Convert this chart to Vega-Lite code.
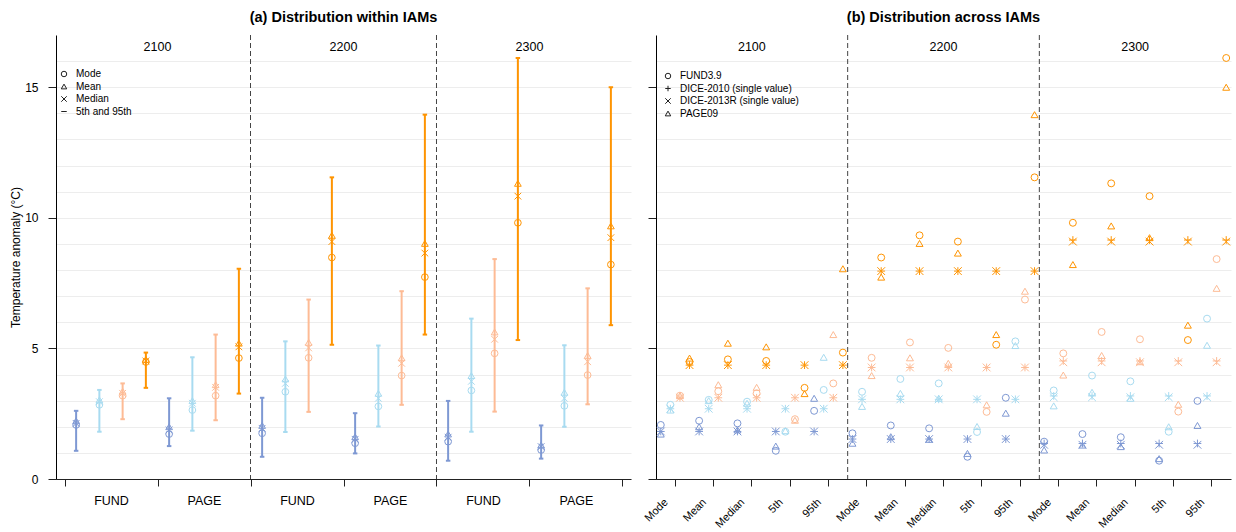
{
  "$schema": "https://vega.github.io/schema/vega-lite/v6.json",
  "background": "white",
  "padding": {"left": 9, "top": 10, "right": 4, "bottom": 0},
  "bounds": "flush",
  "spacing": 25,
  "config": {
    "font": "Liberation Sans",
    "view": {"stroke": null},
    "axis": {
      "labelColor": "#000",
      "titleColor": "#000",
      "domainColor": "#222",
      "tickColor": "#222",
      "labelFontSize": 12,
      "titleFontSize": 12,
      "titleFontWeight": "normal",
      "gridColor": "#ededed"
    },
    "title": {"fontSize": 14.5, "fontWeight": "bold", "color": "#000", "frame": "group", "anchor": "middle", "offset": 9}
  },
  "datasets": {
    "stats": [
      {"year": "2100", "model": "FUND", "scen": "s1", "Mode": 2.07, "Mean": 2.23, "Median": 2.13, "5th": 1.08, "95th": 2.61},
      {"year": "2100", "model": "FUND", "scen": "s2", "Mode": 2.84, "Mean": 3.03, "Median": 2.96, "5th": 1.81, "95th": 3.41},
      {"year": "2100", "model": "FUND", "scen": "s3", "Mode": 3.19, "Mean": 3.36, "Median": 3.28, "5th": 2.29, "95th": 3.66},
      {"year": "2100", "model": "FUND", "scen": "s4", "Mode": 4.48, "Mean": 4.58, "Median": 4.52, "5th": 3.49, "95th": 4.84},
      {"year": "2100", "model": "PAGE", "scen": "s1", "Mode": 1.72, "Mean": 2.0, "Median": 1.88, "5th": 1.26, "95th": 3.09},
      {"year": "2100", "model": "PAGE", "scen": "s2", "Mode": 2.64, "Mean": 3.0, "Median": 2.9, "5th": 1.85, "95th": 4.66},
      {"year": "2100", "model": "PAGE", "scen": "s3", "Mode": 3.19, "Mean": 3.61, "Median": 3.51, "5th": 2.25, "95th": 5.53},
      {"year": "2100", "model": "PAGE", "scen": "s4", "Mode": 4.63, "Mean": 5.2, "Median": 5.06, "5th": 3.27, "95th": 8.05},
      {"year": "2200", "model": "FUND", "scen": "s1", "Mode": 1.75, "Mean": 2.05, "Median": 1.94, "5th": 0.85, "95th": 3.11},
      {"year": "2200", "model": "FUND", "scen": "s2", "Mode": 3.34, "Mean": 3.83, "Median": 3.66, "5th": 1.8, "95th": 5.27},
      {"year": "2200", "model": "FUND", "scen": "s3", "Mode": 4.64, "Mean": 5.23, "Median": 5.02, "5th": 2.57, "95th": 6.87},
      {"year": "2200", "model": "FUND", "scen": "s4", "Mode": 8.48, "Mean": 9.33, "Median": 9.09, "5th": 5.14, "95th": 11.55},
      {"year": "2200", "model": "PAGE", "scen": "s1", "Mode": 1.37, "Mean": 1.62, "Median": 1.52, "5th": 0.98, "95th": 2.52},
      {"year": "2200", "model": "PAGE", "scen": "s2", "Mode": 2.78, "Mean": 3.28, "Median": 3.09, "5th": 2.01, "95th": 5.11},
      {"year": "2200", "model": "PAGE", "scen": "s3", "Mode": 3.96, "Mean": 4.64, "Median": 4.43, "5th": 2.84, "95th": 7.19},
      {"year": "2200", "model": "PAGE", "scen": "s4", "Mode": 7.73, "Mean": 9.02, "Median": 8.65, "5th": 5.53, "95th": 13.95},
      {"year": "2300", "model": "FUND", "scen": "s1", "Mode": 1.43, "Mean": 1.72, "Median": 1.6, "5th": 0.7, "95th": 2.99},
      {"year": "2300", "model": "FUND", "scen": "s2", "Mode": 3.39, "Mean": 3.96, "Median": 3.74, "5th": 1.81, "95th": 6.14},
      {"year": "2300", "model": "FUND", "scen": "s3", "Mode": 4.81, "Mean": 5.63, "Median": 5.35, "5th": 2.58, "95th": 8.42},
      {"year": "2300", "model": "FUND", "scen": "s4", "Mode": 9.81, "Mean": 11.32, "Median": 10.83, "5th": 5.32, "95th": 16.12},
      {"year": "2300", "model": "PAGE", "scen": "s1", "Mode": 1.11, "Mean": 1.3, "Median": 1.24, "5th": 0.78, "95th": 2.05},
      {"year": "2300", "model": "PAGE", "scen": "s2", "Mode": 2.8, "Mean": 3.32, "Median": 3.09, "5th": 2.0, "95th": 5.12},
      {"year": "2300", "model": "PAGE", "scen": "s3", "Mode": 3.98, "Mean": 4.73, "Median": 4.49, "5th": 2.86, "95th": 7.3},
      {"year": "2300", "model": "PAGE", "scen": "s4", "Mode": 8.21, "Mean": 9.69, "Median": 9.24, "5th": 5.89, "95th": 15.0}
    ],
    "dice": [
      {"year": "2100", "scen": "s1", "DICE-2010": 1.82, "DICE-2013R": 1.82, "stat": ["Mode", "Mean", "Median", "5th", "95th"]},
      {"year": "2100", "scen": "s2", "DICE-2010": 2.69, "DICE-2013R": 2.69, "stat": ["Mode", "Mean", "Median", "5th", "95th"]},
      {"year": "2100", "scen": "s3", "DICE-2010": 3.11, "DICE-2013R": 3.11, "stat": ["Mode", "Mean", "Median", "5th", "95th"]},
      {"year": "2100", "scen": "s4", "DICE-2010": 4.36, "DICE-2013R": 4.36, "stat": ["Mode", "Mean", "Median", "5th", "95th"]},
      {"year": "2200", "scen": "s1", "DICE-2010": 1.53, "DICE-2013R": 1.53, "stat": ["Mode", "Mean", "Median", "5th", "95th"]},
      {"year": "2200", "scen": "s2", "DICE-2010": 3.05, "DICE-2013R": 3.05, "stat": ["Mode", "Mean", "Median", "5th", "95th"]},
      {"year": "2200", "scen": "s3", "DICE-2010": 4.27, "DICE-2013R": 4.27, "stat": ["Mode", "Mean", "Median", "5th", "95th"]},
      {"year": "2200", "scen": "s4", "DICE-2010": 7.96, "DICE-2013R": 7.96, "stat": ["Mode", "Mean", "Median", "5th", "95th"]},
      {"year": "2300", "scen": "s1", "DICE-2010": 1.36, "DICE-2013R": 1.31, "stat": ["Mode", "Mean", "Median", "5th", "95th"]},
      {"year": "2300", "scen": "s2", "DICE-2010": 3.18, "DICE-2013R": 3.13, "stat": ["Mode", "Mean", "Median", "5th", "95th"]},
      {"year": "2300", "scen": "s3", "DICE-2010": 4.52, "DICE-2013R": 4.47, "stat": ["Mode", "Mean", "Median", "5th", "95th"]},
      {"year": "2300", "scen": "s4", "DICE-2010": 9.15, "DICE-2013R": 9.09, "stat": ["Mode", "Mean", "Median", "5th", "95th"]}
    ]
  },
  "resolve": {"scale": {"shape": "independent", "color": "shared", "xOffset": "independent", "x": "independent"}, "legend": {"shape": "independent"}},
  "hconcat": [
    {
      "width": 575,
      "height": 444,
      "title": {"text": "(a) Distribution within IAMs"},
      "data": {"name": "stats"},
      "transform": [{"calculate": "datum.year + ' ' + datum.model", "as": "grp"}],
      "layer": [
        {
          "transform": [{"filter": "datum.model === 'FUND' && datum.scen === 's1' && datum.year !== '2100'"}],
          "mark": {"type": "rule", "color": "#444", "strokeWidth": 1, "strokeDash": [5, 3]},
          "encoding": {
            "x": {"field": "grp", "type": "nominal", "bandPosition": 0,
              "scale": {"domain": ["2100 FUND", "2100 PAGE", "2200 FUND", "2200 PAGE", "2300 FUND", "2300 PAGE"], "paddingInner": 0, "paddingOuter": 0.0914},
              "axis": {"title": null, "labelExpr": "split(datum.label, ' ')[1]", "tickBand": "extent", "tickSize": 7, "labelPadding": 8, "labelAngle": 0, "labelOverlap": false, "grid": false, "labelFontSize": 12.5}}
          }
        },
        {
          "transform": [{"filter": "datum.model === 'PAGE' && datum.scen === 's1'"}],
          "mark": {"type": "text", "fontSize": 12.5, "color": "#000", "baseline": "middle", "align": "center"},
          "encoding": {
            "x": {"field": "grp", "type": "nominal", "bandPosition": 0},
            "y": {"datum": 16.55, "type": "quantitative", "title": "Temperature anomaly (°C)",
              "scale": {"domain": [0, 17], "nice": false},
              "axis": {"values": [0, 1, 2, 3, 4, 5, 6, 7, 8, 9, 10, 11, 12, 13, 14, 15, 16], "tickCount": 40, "format": "d",
                "labelExpr": "datum.value % 5 === 0 ? datum.label : ''", "labelOverlap": false,
                "tickOpacity": {"condition": {"test": "datum.value % 5 !== 0", "value": 0}, "value": 1},
                "tickSize": 8, "labelPadding": 10, "titlePadding": 2, "grid": true, "domainColor": "#000"}},
            "text": {"field": "year"}
          }
        },
        {
          "mark": {"type": "rule", "strokeWidth": 2},
          "encoding": {
            "x": {"field": "grp", "type": "nominal"},
            "xOffset": {"field": "scen", "type": "nominal", "scale": {"domain": ["s1", "s2", "s3", "s4"], "paddingInner": 0, "paddingOuter": 0}},
            "y": {"field": "5th", "type": "quantitative", "title": "Temperature anomaly (°C)",
              "axis": {"values": [0, 1, 2, 3, 4, 5, 6, 7, 8, 9, 10, 11, 12, 13, 14, 15, 16], "tickCount": 40, "format": "d",
                "labelExpr": "datum.value % 5 === 0 ? datum.label : ''", "labelOverlap": false,
                "tickOpacity": {"condition": {"test": "datum.value % 5 !== 0", "value": 0}, "value": 1},
                "tickSize": 8, "labelPadding": 10, "titlePadding": 2, "grid": true, "domainColor": "#000"}},
            "y2": {"field": "95th"},
            "color": {"field": "scen", "type": "nominal", "legend": null,
              "scale": {"domain": ["s1", "s2", "s3", "s4"], "range": ["#7e98d3", "#a8dbf0", "#fdbb95", "#fe9402"]}}
          }
        },
        {
          "transform": [{"fold": ["5th", "95th"], "as": ["pct", "value"]}],
          "mark": {"type": "point", "filled": false, "strokeWidth": 2, "size": 20, "opacity": 1},
          "encoding": {
            "x": {"field": "grp", "type": "nominal"},
            "xOffset": {"field": "scen", "type": "nominal"},
            "y": {"field": "value", "type": "quantitative", "title": "Temperature anomaly (°C)",
              "axis": {"values": [0, 1, 2, 3, 4, 5, 6, 7, 8, 9, 10, 11, 12, 13, 14, 15, 16], "tickCount": 40, "format": "d",
                "labelExpr": "datum.value % 5 === 0 ? datum.label : ''", "labelOverlap": false,
                "tickOpacity": {"condition": {"test": "datum.value % 5 !== 0", "value": 0}, "value": 1},
                "tickSize": 8, "labelPadding": 10, "titlePadding": 2, "grid": true, "domainColor": "#000"}},
            "color": {"field": "scen", "type": "nominal", "legend": null},
            "shape": {"datum": "5th and 95th", "type": "nominal"}
          }
        },
        {
          "transform": [{"fold": ["Mode", "Mean", "Median"], "as": ["marker", "value"]}],
          "mark": {"type": "point", "filled": false, "strokeWidth": 1, "size": 45, "opacity": 1},
          "encoding": {
            "x": {"field": "grp", "type": "nominal"},
            "xOffset": {"field": "scen", "type": "nominal"},
            "y": {"field": "value", "type": "quantitative", "title": "Temperature anomaly (°C)",
              "axis": {"values": [0, 1, 2, 3, 4, 5, 6, 7, 8, 9, 10, 11, 12, 13, 14, 15, 16], "tickCount": 40, "format": "d",
                "labelExpr": "datum.value % 5 === 0 ? datum.label : ''", "labelOverlap": false,
                "tickOpacity": {"condition": {"test": "datum.value % 5 !== 0", "value": 0}, "value": 1},
                "tickSize": 8, "labelPadding": 10, "titlePadding": 2, "grid": true, "domainColor": "#000"}},
            "color": {"field": "scen", "type": "nominal", "legend": null},
            "shape": {"field": "marker", "type": "nominal",
              "scale": {"domain": ["Mode", "Mean", "Median", "5th and 95th"], "range": ["circle", "triangle-up", "M-1,-1L1,1M-1,1L1,-1", "M-1,0H1"]},
              "legend": {"title": null, "orient": "none", "legendX": 3, "legendY": 34, "labelFontSize": 10, "labelColor": "#000",
                "symbolSize": 30, "symbolStrokeColor": "#222", "symbolStrokeWidth": 1, "symbolFillColor": "transparent", "rowPadding": 2.5, "labelOffset": 7}}
          }
        }
      ]
    },
    {
      "width": 575,
      "height": 444,
      "title": {"text": "(b) Distribution across IAMs"},
      "layer": [
        {
          "data": {"name": "stats"},
          "transform": [
            {"filter": "datum.model === 'FUND' && datum.scen === 's1' && datum.year !== '2100'"},
            {"calculate": "datum.year + ' Mode'", "as": "grp"}
          ],
          "mark": {"type": "rule", "color": "#444", "strokeWidth": 1, "strokeDash": [5, 3]},
          "encoding": {
            "x": {"field": "grp", "type": "nominal", "bandPosition": 0,
              "scale": {"domain": ["2100 Mode", "2100 Mean", "2100 Median", "2100 5th", "2100 95th", "2200 Mode", "2200 Mean", "2200 Median", "2200 5th", "2200 95th", "2300 Mode", "2300 Mean", "2300 Median", "2300 5th", "2300 95th"], "paddingInner": 0, "paddingOuter": 0},
              "axis": {"title": null, "labelExpr": "split(datum.label, ' ')[1]", "labelAngle": -45, "labelAlign": "right", "labelBaseline": "top", "tickSize": 7, "labelPadding": 10, "labelOffset": -13, "labelOverlap": false, "grid": false, "labelFontSize": 11}}
          }
        },
        {
          "data": {"name": "stats"},
          "transform": [
            {"filter": "datum.model === 'PAGE' && datum.scen === 's1'"},
            {"calculate": "datum.year + ' Median'", "as": "grp"}
          ],
          "mark": {"type": "text", "fontSize": 12.5, "color": "#000", "baseline": "middle", "align": "center"},
          "encoding": {
            "x": {"field": "grp", "type": "nominal"},
            "y": {"datum": 16.55, "type": "quantitative", "title": null,
              "scale": {"domain": [0, 17], "nice": false},
              "axis": {"values": [0, 1, 2, 3, 4, 5, 6, 7, 8, 9, 10, 11, 12, 13, 14, 15, 16], "tickCount": 40,
                "labels": false,
                "tickOpacity": {"condition": {"test": "datum.value % 5 !== 0", "value": 0}, "value": 1},
                "tickSize": 8, "grid": true, "domainColor": "#000", "title": null}},
            "text": {"field": "year"}
          }
        },
        {
          "data": {"name": "stats"},
          "transform": [
            {"fold": ["Mode", "Mean", "Median", "5th", "95th"], "as": ["stat", "value"]},
            {"calculate": "datum.year + ' ' + datum.stat", "as": "grp"}
          ],
          "mark": {"type": "point", "filled": false, "strokeWidth": 1, "size": 48, "opacity": 1},
          "encoding": {
            "x": {"field": "grp", "type": "nominal"},
            "xOffset": {"field": "scen", "type": "nominal", "scale": {"domain": ["s1", "s2", "s3", "s4"], "paddingInner": 0, "paddingOuter": 0.5}},
            "y": {"field": "value", "type": "quantitative", "title": null,
              "axis": {"values": [0, 1, 2, 3, 4, 5, 6, 7, 8, 9, 10, 11, 12, 13, 14, 15, 16], "tickCount": 40,
                "labels": false,
                "tickOpacity": {"condition": {"test": "datum.value % 5 !== 0", "value": 0}, "value": 1},
                "tickSize": 8, "grid": true, "domainColor": "#000", "title": null}},
            "color": {"field": "scen", "type": "nominal", "legend": null},
            "shape": {"field": "model", "type": "nominal",
              "scale": {"domain": ["FUND", "DICE-2010", "DICE-2013R", "PAGE"], "range": ["circle", "M-1,0H1M0,-1V1", "M-1,-1L1,1M-1,1L1,-1", "triangle-up"]},
              "legend": {"title": null, "orient": "none", "legendX": 7, "legendY": 36, "labelFontSize": 10, "labelColor": "#000",
                "labelExpr": "datum.label === 'FUND' ? 'FUND3.9' : datum.label === 'PAGE' ? 'PAGE09' : datum.label + ' (single value)'",
                "symbolSize": 30, "symbolStrokeColor": "#222", "symbolStrokeWidth": 1, "symbolFillColor": "transparent", "rowPadding": 2.5, "labelOffset": 7}}
          }
        },
        {
          "data": {"name": "dice"},
          "transform": [
            {"flatten": ["stat"]},
            {"fold": ["DICE-2010", "DICE-2013R"], "as": ["model", "value"]},
            {"calculate": "datum.year + ' ' + datum.stat", "as": "grp"}
          ],
          "mark": {"type": "point", "filled": false, "strokeWidth": 1, "size": 60, "opacity": 1},
          "encoding": {
            "x": {"field": "grp", "type": "nominal"},
            "xOffset": {"field": "scen", "type": "nominal"},
            "y": {"field": "value", "type": "quantitative", "title": null,
              "axis": {"values": [0, 1, 2, 3, 4, 5, 6, 7, 8, 9, 10, 11, 12, 13, 14, 15, 16], "tickCount": 40,
                "labels": false,
                "tickOpacity": {"condition": {"test": "datum.value % 5 !== 0", "value": 0}, "value": 1},
                "tickSize": 8, "grid": true, "domainColor": "#000", "title": null}},
            "color": {"field": "scen", "type": "nominal", "legend": null},
            "shape": {"field": "model", "type": "nominal"}
          }
        }
      ]
    }
  ]
}
